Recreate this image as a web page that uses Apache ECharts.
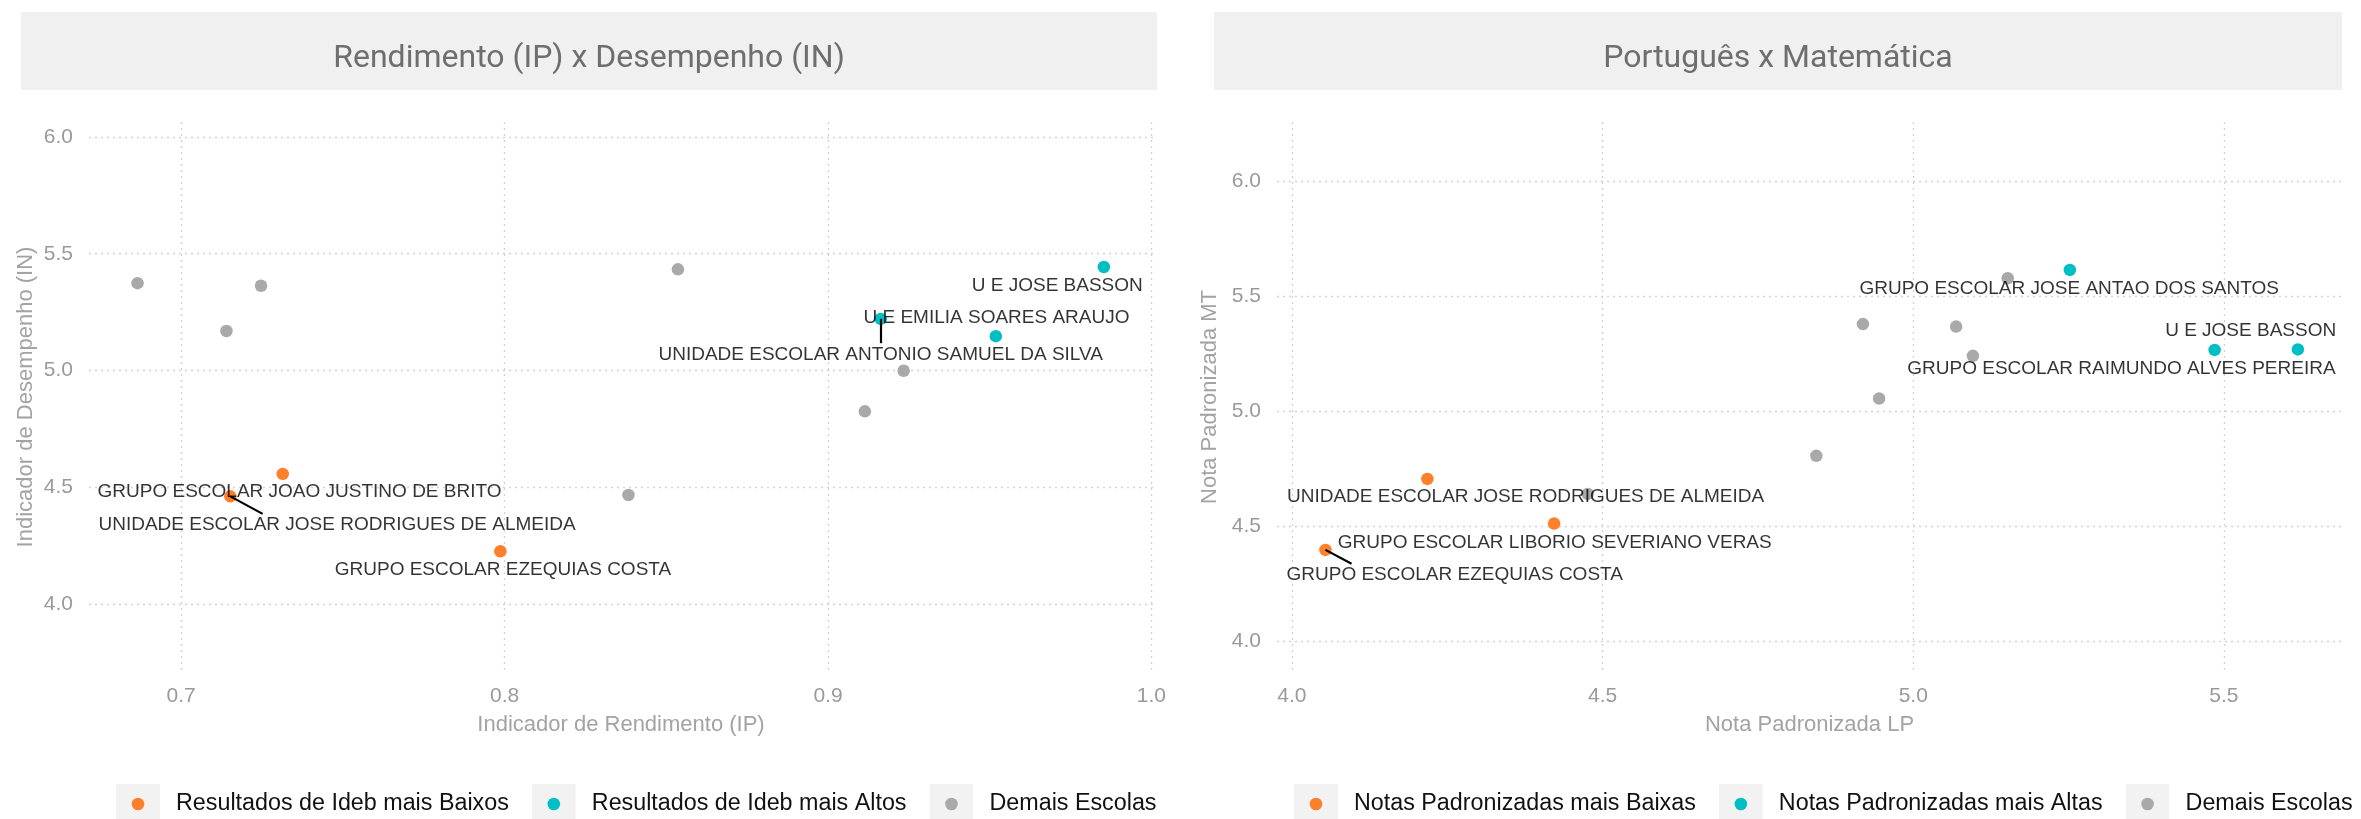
<!DOCTYPE html>
<html>
<head>
<meta charset="utf-8">
<script src="https://cdn.jsdelivr.net/npm/echarts@6/dist/echarts.min.js"></script>
<style>
html,body{margin:0;padding:0;background:#fff;}
#chart{width:2361px;height:819px;}
</style>
</head>
<body>
<div id="chart"></div>
<script>
// ---------- Left panel: Rendimento (IP) x Desempenho (IN) ----------
const leftTitle = "Rendimento (IP) x Desempenho (IN)";
const leftXName = "Indicador de Rendimento (IP)";
const leftYName = "Indicador de Desempenho (IN)";
const leftGroups = ["Resultados de Ideb mais Baixos", "Resultados de Ideb mais Altos", "Demais Escolas"];
const leftXTicks = [0.7, 0.8, 0.9, 1.0];
const leftYTicks = [4.0, 4.5, 5.0, 5.5, 6.0];

const ipLow   = [0.7314, 0.7152, 0.7987];
const inLow   = [4.557, 4.461, 4.226];
const ipHigh  = [0.9853, 0.9163, 0.9519];
const inHigh  = [5.443, 5.221, 5.147];
const ipOther = [0.6865, 0.7247, 0.7140, 0.8536, 0.9234, 0.9114, 0.8383];
const inOther = [5.374, 5.363, 5.169, 5.433, 4.999, 4.825, 4.467];

const leftLabelText = ["U E JOSE BASSON", "U E EMILIA SOARES ARAUJO", "UNIDADE ESCOLAR ANTONIO SAMUEL DA SILVA",
  "GRUPO ESCOLAR JOAO JUSTINO DE BRITO", "UNIDADE ESCOLAR JOSE RODRIGUES DE ALMEIDA", "GRUPO ESCOLAR EZEQUIAS COSTA"];
const leftLabelX = [0.9709, 0.9521, 0.9163, 0.7366, 0.7482, 0.7995];
const leftLabelY = [5.364, 5.224, 5.069, 4.479, 4.339, 4.145];
const leftSegFromX = [0.9163, 0.7152];
const leftSegFromY = [5.221, 4.461];
const leftSegToX   = [0.9163, 0.7252];
const leftSegToY   = [5.117, 4.386];

// ---------- Right panel: Português x Matemática ----------
const rightTitle = "Português x Matemática";
const rightXName = "Nota Padronizada LP";
const rightYName = "Nota Padronizada MT";
const rightGroups = ["Notas Padronizadas mais Baixas", "Notas Padronizadas mais Altas", "Demais Escolas"];
const rightXTicks = [4.0, 4.5, 5.0, 5.5];
const rightYTicks = [4.0, 4.5, 5.0, 5.5, 6.0];

const lpLow   = [4.218, 4.422, 4.054];
const mtLow   = [4.706, 4.512, 4.398];
const lpHigh  = [5.252, 5.485, 5.619];
const mtHigh  = [5.613, 5.266, 5.268];
const lpOther = [4.476, 4.844, 4.919, 4.945, 5.069, 5.096, 5.152];
const mtOther = [4.641, 4.806, 5.378, 5.055, 5.367, 5.240, 5.577];

const rightLabelText = ["GRUPO ESCOLAR JOSE ANTAO DOS SANTOS", "U E JOSE BASSON", "GRUPO ESCOLAR RAIMUNDO ALVES PEREIRA",
  "UNIDADE ESCOLAR JOSE RODRIGUES DE ALMEIDA", "GRUPO ESCOLAR LIBORIO SEVERIANO VERAS", "GRUPO ESCOLAR EZEQUIAS COSTA"];
const rightLabelX = [5.251, 5.543, 5.335, 4.376, 4.423, 4.262];
const rightLabelY = [5.532, 5.347, 5.184, 4.627, 4.428, 4.290];
const rightSegFromX = [4.054];
const rightSegFromY = [4.398];
const rightSegToX   = [4.096];
const rightSegToY   = [4.338];

// ---------- styling ----------
const COLORS = ["#ff7f2a", "#00bfc4", "#a9a9a9"];
const FONT = "'Liberation Sans', Arial, Helvetica, sans-serif";
const TITLE_FONT = "Roboto, 'Liberation Sans', sans-serif";
const GRID_LINE = {show: true, lineStyle: {type: [2, 4], color: "#d2d2d2", width: 1.3}};

function zip(xs, ys) { return xs.map((x, i) => [x, ys[i]]); }
function keyIcon(color) {
  const svg = '<svg xmlns="http://www.w3.org/2000/svg" width="44" height="40">' +
    '<rect width="44" height="40" fill="#f2f2f2"/><circle cx="22" cy="20" r="6.3" fill="' + color + '"/></svg>';
  return 'image://data:image/svg+xml;charset=utf-8,' + encodeURIComponent(svg);
}
function xAxisCfg(idx, min, max, ticks, name) {
  return {
    type: 'value', gridIndex: idx, min: min, max: max,
    name: name, nameLocation: 'middle', nameGap: 42,
    nameTextStyle: {fontFamily: FONT, fontSize: 22, color: '#a3a3a3'},
    axisLine: {show: false}, axisTick: {show: false, customValues: ticks},
    axisLabel: {customValues: ticks, margin: 14, fontFamily: FONT, fontSize: 21, color: '#9a9a9a',
      formatter: v => Number(v).toFixed(1)},
    splitLine: GRID_LINE
  };
}
function yAxisCfg(idx, min, max, ticks, name, gap) {
  return {
    type: 'value', gridIndex: idx, min: min, max: max,
    name: name, nameLocation: 'middle', nameGap: gap, nameRotate: 90,
    nameTextStyle: {fontFamily: FONT, fontSize: 22, color: '#a3a3a3'},
    axisLine: {show: false}, axisTick: {show: false, customValues: ticks},
    axisLabel: {customValues: ticks, margin: 16, fontFamily: FONT, fontSize: 21, color: '#9a9a9a',
      formatter: v => Number(v).toFixed(1)},
    splitLine: GRID_LINE
  };
}
function pointSeries(name, idx, xs, ys, color) {
  return {type: 'scatter', name: name, xAxisIndex: idx, yAxisIndex: idx, data: zip(xs, ys),
    symbolSize: 12.5, itemStyle: {color: color, opacity: 1}, z: 3, silent: true};
}
function labelSeries(idx, texts, xs, ys) {
  return {type: 'scatter', name: 'labels' + idx, xAxisIndex: idx, yAxisIndex: idx,
    data: texts.map((t, i) => ({value: [xs[i], ys[i]], name: t})),
    symbolSize: 0, z: 6, silent: true,
    label: {show: true, position: 'inside', formatter: p => p.name, color: '#000',
      fontFamily: FONT, fontSize: 19}};
}
function segSeries(idx, fx, fy, tx, ty) {
  return {type: 'lines', name: 'segs' + idx, coordinateSystem: 'cartesian2d', xAxisIndex: idx, yAxisIndex: idx,
    data: fx.map((x, i) => ({coords: [[x, fy[i]], [tx[i], ty[i]]]})),
    lineStyle: {color: '#000', width: 2.2, opacity: 1}, z: 5, silent: true};
}
function legendCfg(left, names) {
  return {left: left, top: 779, width: 1200, orient: 'horizontal', itemWidth: 44, itemHeight: 40, itemGap: 23,
    selectedMode: false,
    data: names.map((n, i) => ({name: n, icon: keyIcon(COLORS[i])})),
    textStyle: {fontFamily: FONT, fontSize: 23.3, color: '#111', padding: [0, 0, 0, 11]}};
}
function strip(x, w, text) {
  return {type: 'group', children: [
    {type: 'rect', shape: {x: x, y: 12, width: w, height: 78}, style: {fill: '#f0f0f0'}},
    {type: 'text', x: x + w / 2, y: 59, style: {text: text, fontFamily: TITLE_FONT, fontWeight: 400,
      fontSize: 32, fill: '#6e6e6e', textAlign: 'center', textVerticalAlign: 'middle'}}
  ]};
}

const chart = echarts.init(document.getElementById('chart'), null, {renderer: 'canvas'});
chart.setOption({
  animation: false,
  backgroundColor: '#ffffff',
  grid: [
    {left: 89, right: 2361 - 1153, top: 122, bottom: 147},
    {left: 1277, right: 19, top: 122, bottom: 147}
  ],
  xAxis: [
    xAxisCfg(0, 0.6715, 1.0005, leftXTicks, leftXName),
    xAxisCfg(1, 3.976, 5.69, rightXTicks, rightXName)
  ],
  yAxis: [
    yAxisCfg(0, 3.709, 6.064, leftYTicks, leftYName, 52),
    yAxisCfg(1, 3.868, 6.255, rightYTicks, rightYName, 56)
  ],
  legend: [legendCfg(111, leftGroups), legendCfg(1289, rightGroups)],
  graphic: [strip(21, 1136, leftTitle), strip(1214, 1128, rightTitle)],
  series: [
    pointSeries(leftGroups[2], 0, ipOther, inOther, COLORS[2]),
    pointSeries(leftGroups[0], 0, ipLow, inLow, COLORS[0]),
    pointSeries(leftGroups[1], 0, ipHigh, inHigh, COLORS[1]),
    segSeries(0, leftSegFromX, leftSegFromY, leftSegToX, leftSegToY),
    labelSeries(0, leftLabelText, leftLabelX, leftLabelY),
    pointSeries(rightGroups[2], 1, lpOther, mtOther, COLORS[2]),
    pointSeries(rightGroups[0], 1, lpLow, mtLow, COLORS[0]),
    pointSeries(rightGroups[1], 1, lpHigh, mtHigh, COLORS[1]),
    segSeries(1, rightSegFromX, rightSegFromY, rightSegToX, rightSegToY),
    labelSeries(1, rightLabelText, rightLabelX, rightLabelY)
  ]
});
</script>
</body>
</html>
